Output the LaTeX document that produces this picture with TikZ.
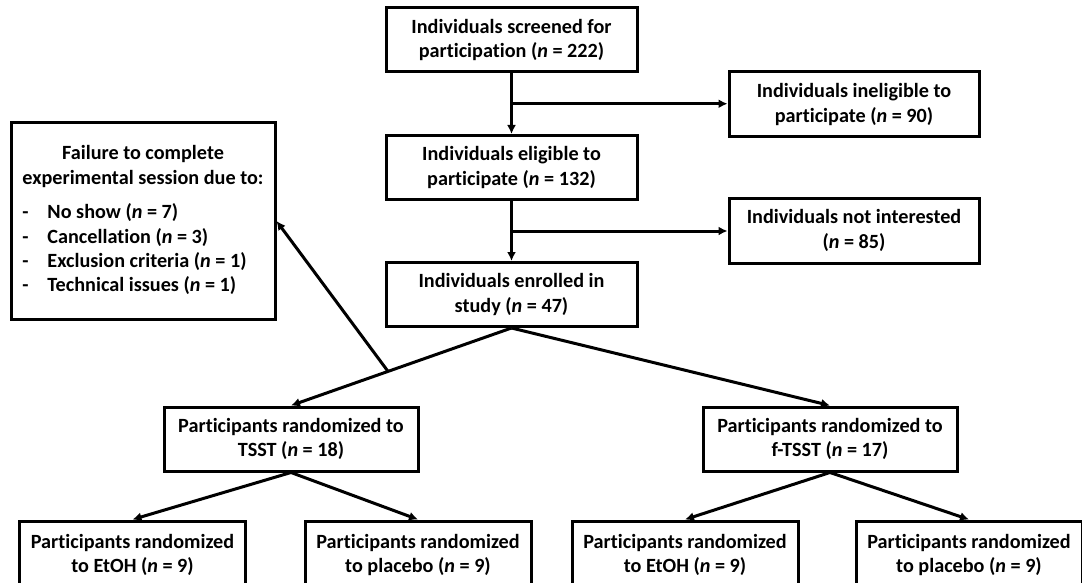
\documentclass[tikz,border=0pt]{standalone}
\usepackage{fontspec}
\setmainfont[Ligatures={NoCommon}]{Carlito}
\usepackage{tikz}
\usetikzlibrary{arrows.meta}

\begin{document}
\begin{tikzpicture}
      [x=0.5pt,y=-0.5pt,line width=1.5pt,
      >={Latex[length=4.5pt,width=4.5pt]},
      font=\fontsize{10.1}{12.2}\selectfont\bfseries,
      box/.style={shape=rectangle,draw,align=center,inner sep=2pt},
      flow/.style={box,minimum width=125.5pt,minimum height=32pt},
      side/.style={box,minimum width=125pt,minimum height=32.5pt},
      arm/.style={box,minimum width=127pt,minimum height=32pt},
      leaf/.style={box,minimum width=113pt,minimum height=34pt}]
\clip (0,0) rectangle (1082,583);

% main column
\node[flow] (screened) at (511.5,40)
   {Individuals screened for\\participation (\textit{n} = 222)};
\node[flow] (eligible) at (511.5,167.5)
   {Individuals eligible to\\participate (\textit{n} = 132)};
\node[flow] (enrolled) at (511.5,294.5)
   {Individuals enrolled in\\study (\textit{n} = 47)};

% exclusions
\node[side] (ineligible) at (854,104.5)
   {Individuals ineligible to\\participate (\textit{n} = 90)};
\node[side] (notint) at (854,230.5)
   {Individuals not interested\\(\textit{n} = 85)};
\node[box,minimum width=132pt,minimum height=98pt] (failure) at (143,221)
   {\begin{tabular}{@{}l@{}}
    \multicolumn{1}{@{}c@{}}{Failure to complete}\\
    experimental session due to:\\[5pt]
    \makebox[12.5pt][l]{-}No show (\textit{n} = 7)\\
    \makebox[12.5pt][l]{-}Cancellation (\textit{n} = 3)\\
    \makebox[12.5pt][l]{-}Exclusion criteria (\textit{n} = 1)\\
    \makebox[12.5pt][l]{-}Technical issues (\textit{n} = 1)
    \end{tabular}};

% randomization
\node[arm] (tsst) at (291,439)
   {Participants randomized to\\TSST (\textit{n} = 18)};
\node[arm] (ftsst) at (830,439)
   {Participants randomized to\\f-TSST (\textit{n} = 17)};
\node[leaf] (etohA) at (132.5,555)
   {Participants randomized\\to EtOH (\textit{n} = 9)};
\node[leaf] (placeboA) at (418,555)
   {Participants randomized\\to placebo (\textit{n} = 9)};
\node[leaf] (etohB) at (685,555)
   {Participants randomized\\to EtOH (\textit{n} = 9)};
\node[leaf] (placeboB) at (969,555)
   {Participants randomized\\to placebo (\textit{n} = 9)};

\draw[->] (screened) -- coordinate[pos=0.5] (cut1) (eligible);
\draw[->] (cut1) -- (cut1 -| ineligible.west);
\draw[->] (eligible) -- coordinate[pos=0.5] (cut2) (enrolled);
\draw[->] (cut2) -- (cut2 -| notint.west);

\draw[->] (enrolled.south) -- coordinate[pos=0.56] (cut3) (tsst.north);
\draw[->] (enrolled.south) -- (ftsst.north);
\draw[->] (cut3) -- (failure.east);

\draw[->] (tsst.south) -- (etohA.north);
\draw[->] (tsst.south) -- (placeboA.north);
\draw[->] (ftsst.south) -- (etohB.north);
\draw[->] (ftsst.south) -- (placeboB.north);

\end{tikzpicture}
\end{document}
